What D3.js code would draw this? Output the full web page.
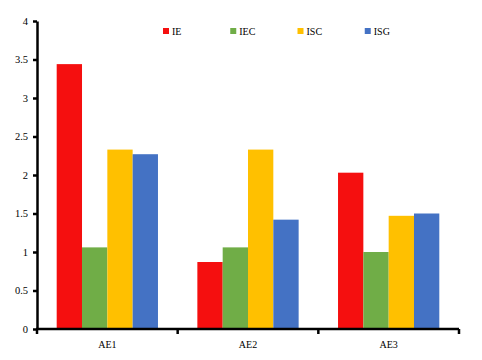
<!DOCTYPE html>
<html>
<head>
<meta charset="utf-8">
<script src="https://cdn.jsdelivr.net/npm/d3@7"></script>
<style>
  body { margin: 0; background: #fff; }
  svg { display: block; }
  text { font-family: "Liberation Serif", "DejaVu Serif", serif; font-size: 10px; fill: #000; }
</style>
</head>
<body>
<div id="chart"></div>
<script>
var categories = ["AE1", "AE2", "AE3"];
var series = ["IE", "IEC", "ISC", "ISG"];
var IE  = [3.44, 0.87, 2.03];
var IEC = [1.06, 1.06, 1.0];
var ISC = [2.33, 2.33, 1.47];
var ISG = [2.27, 1.42, 1.5];
var yTicks = [0, 0.5, 1, 1.5, 2, 2.5, 3, 3.5, 4];
var colors = ["#f50f0f", "#70ad47", "#ffc000", "#4472c4"];

var values = [IE, IEC, ISC, ISG];

var width = 482, height = 360;
var margin = {top: 21, right: 23, bottom: 31, left: 37};

var svg = d3.select("#chart").append("svg")
  .attr("width", width)
  .attr("height", height);

var x0 = d3.scaleBand()
  .domain(categories)
  .range([margin.left, width - margin.right])
  .paddingInner(0.28)
  .paddingOuter(0.14);

var x1 = d3.scaleBand()
  .domain(series)
  .range([0, x0.bandwidth()]);

var y = d3.scaleLinear()
  .domain([0, 4])
  .range([height - margin.bottom, margin.top]);

var color = d3.scaleOrdinal().domain(series).range(colors);

// bars
var groups = svg.append("g").selectAll("g")
  .data(categories)
  .enter().append("g")
  .attr("transform", function(d) { return "translate(" + x0(d) + ",0)"; });

groups.selectAll("rect")
  .data(function(c, i) {
    return series.map(function(s, j) { return {key: s, value: values[j][i]}; });
  })
  .enter().append("rect")
  .attr("x", function(d) { return x1(d.key); })
  .attr("y", function(d) { return y(d.value); })
  .attr("width", x1.bandwidth())
  .attr("height", function(d) { return y(0) - y(d.value); })
  .attr("fill", function(d) { return color(d.key); });

// y axis
var yAxis = svg.append("g")
  .attr("transform", "translate(" + margin.left + ",0)")
  .call(d3.axisLeft(y).tickValues(yTicks).tickFormat(function(d) { return String(d); })
    .tickSize(4).tickSizeOuter(0));
yAxis.select(".domain").attr("stroke-width", 2.5);
yAxis.selectAll(".tick line").attr("stroke-width", 2.5);
yAxis.selectAll("text").attr("x", -9).style("font-size", "10.5px");

// x axis
var xOuter = d3.scalePoint()
  .domain(d3.range(categories.length + 1))
  .range([margin.left, width - margin.right]);

var xAxis = svg.append("g")
  .attr("transform", "translate(0," + y(0) + ")");
xAxis.append("line")
  .attr("x1", margin.left - 1)
  .attr("x2", width - margin.right)
  .attr("stroke", "#000")
  .attr("stroke-width", 2.5);
xAxis.selectAll(".sep")
  .data(xOuter.domain())
  .enter().append("line")
  .attr("class", "sep")
  .attr("x1", function(d) { return xOuter(d); })
  .attr("x2", function(d) { return xOuter(d); })
  .attr("y1", 0)
  .attr("y2", 5)
  .attr("stroke", "#000")
  .attr("stroke-width", 2.5);
xAxis.selectAll(".lbl")
  .data(categories)
  .enter().append("text")
  .attr("class", "lbl")
  .attr("x", function(d) { return x0(d) + x0.bandwidth() / 2; })
  .attr("y", 19)
  .attr("text-anchor", "middle")
  .text(function(d) { return d; });

// legend
var legendX = d3.scaleBand()
  .domain(series)
  .range([163, 432]);

var legend = svg.append("g").selectAll("g")
  .data(series)
  .enter().append("g")
  .attr("transform", function(d) { return "translate(" + legendX(d) + ",31)"; });
legend.append("rect")
  .attr("x", 0)
  .attr("y", -3)
  .attr("width", 6)
  .attr("height", 6)
  .attr("fill", function(d) { return color(d); });
legend.append("text")
  .attr("x", 9)
  .attr("y", 3.5)
  .text(function(d) { return d; });
</script>
</body>
</html>
